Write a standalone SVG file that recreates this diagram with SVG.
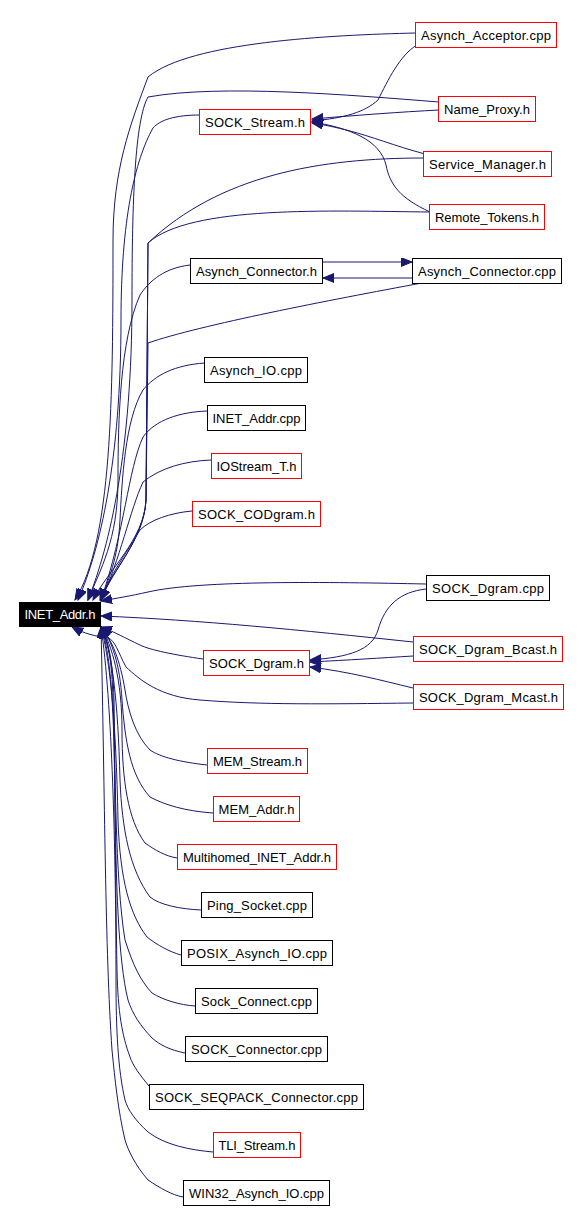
<svg xmlns="http://www.w3.org/2000/svg" width="579" height="1211" viewBox="0 0 579 1211">
<style>
.bk{fill:#fff;stroke:#000;stroke-width:1}
.rd{fill:#fff;stroke:#f00;stroke-width:1}
.root{fill:#000;stroke:#000;stroke-width:1}
text{font-family:"Liberation Sans",Arial,sans-serif;font-size:13px;fill:#000;text-anchor:middle}
.wt{fill:#fff}
.e{fill:none;stroke:#191970;stroke-width:1;marker-end:url(#ah)}
</style>
<defs>
<marker id="ah" markerUnits="userSpaceOnUse" markerWidth="12" markerHeight="10" refX="11" refY="4.5" orient="auto">
<path d="M0,0 L11,4.5 L0,9 z" fill="#191970" stroke="#191970"/>
</marker>
</defs>
<rect width="579" height="1211" fill="#fff"/>
<g id="edges">
<!-- to SOCK_Stream.h -->
<path class="e" d="M417,45 C400,55 388,80 378,100 C365,112 345,118 312,121"/>
<path class="e" d="M439,110 C400,112 360,115 312,119"/>
<path class="e" d="M425,154 C395,146 370,136 350,131 C335,127 325,125 312,123"/>
<path class="e" d="M430,212 C400,198 390,185 386,165 C380,140 350,128 312,122"/>
<!-- Asynch_Connector pair -->
<path class="e" d="M323,262 L412,262"/>
<path class="e" d="M413,278 L323,278"/>
<!-- to SOCK_Dgram.h -->
<path class="e" d="M426,589 C400,592 385,605 378,630 C372,650 350,657 310,660"/>
<path class="e" d="M413,656 C380,658 350,660 310,662"/>
<path class="e" d="M413,688 C380,680 350,672 310,667"/>
<!-- to INET_Addr.h from above -->
<path class="e" d="M416,33 C330,35 190,42 148,77 C130,125 113,170 113,240 C113,400 112,540 75,600"/>
<path class="e" d="M439,102 C350,95 220,84 148,97 C135,120 132,200 132,300 C132,450 110,545 88,600"/>
<path class="e" d="M200,115 C175,115 160,120 153,128 C135,160 121,220 121,320 C121,460 100,550 78,600"/>
<path class="e" d="M424,158 C320,158 220,175 148,243 L146,500 C144,540 112,570 100,600"/>
<path class="e" d="M430,212 C330,211 190,205 148,243 L146,500 C144,540 108,570 93,600"/>
<path class="e" d="M190,265 C165,268 150,280 140,295 C120,340 118,420 118,480 C118,540 100,570 88,600"/>
<path class="e" d="M422,283 C330,300 200,325 148,343 L146,500 C144,540 112,570 101,600"/>
<path class="e" d="M205,363 C175,365 155,375 143,390 C125,420 122,480 120,520 C118,560 108,580 101,600"/>
<path class="e" d="M207,411 C180,412 155,420 143,437 C128,470 125,530 101,600"/>
<path class="e" d="M211,460 C185,461 160,468 143,482 C130,510 120,560 101,600"/>
<path class="e" d="M192,511 C170,513 150,520 140,530 C125,555 110,575 101,600"/>
<path class="e" d="M426,584 C330,582 200,580 148,592 C130,596 118,598 101,601"/>
<path class="e" d="M413,642 C300,630 200,620 101,616"/>
<!-- to INET_Addr.h from below -->
<path class="e" d="M203,659 C175,655 150,650 140,645 C125,638 115,632 101,627"/>
<path class="e" d="M413,703 C330,704 260,705 200,700 C160,697 140,680 126,667 C118,652 115,640 108,638 C95,636 85,634 72,627"/>
<path class="e" d="M207,765 C180,762 160,757 150,750 C135,735 128,710 125,690 C120,660 112,640 101,627"/>
<path class="e" d="M213,813 C185,811 165,805 150,797 C130,775 125,740 122,700 C120,665 112,640 101,627"/>
<path class="e" d="M177,858 C165,856 155,850 145,843 C128,820 122,780 122,730 C122,680 112,645 101,627"/>
<path class="e" d="M201,910 C180,909 160,905 150,897 C130,870 122,830 120,780 C118,700 112,650 101,627"/>
<path class="e" d="M181,955 C170,952 157,945 147,937 C130,915 120,880 118,820 C116,720 110,660 101,627"/>
<path class="e" d="M195,1006 C180,1005 163,1000 152,993 C140,980 133,965 125,940 C115,880 115,760 114,700 C113,660 108,640 101,627"/>
<path class="e" d="M185,1053 C170,1050 160,1045 152,1038 C140,1025 133,1015 128,1000 C118,960 116,880 115,800 C114,700 110,650 101,627"/>
<path class="e" d="M149,1086 C140,1075 133,1066 130,1057 C122,1035 118,1013 117,970 C115,860 115,750 113,700 C112,660 108,640 101,627"/>
<path class="e" d="M213,1152 C190,1150 165,1145 148,1132 C135,1120 128,1110 125,1100 C118,1070 116,1030 116,980 C116,850 112,700 101,627"/>
<path class="e" d="M183,1197 C172,1195 160,1188 148,1180 C135,1165 128,1150 125,1140 C118,1110 115,1080 112,1050 C105,950 105,800 101,627"/>
</g>
<g id="n0"><rect class="root" x="19.5" y="602.5" width="81" height="24"/><text class="wt" x="60" y="619" textLength="71" lengthAdjust="spacing">INET_Addr.h</text></g>
<g id="n1"><rect class="rd" x="415.5" y="22.5" width="141" height="25"/><text x="486" y="40" textLength="130" lengthAdjust="spacing">Asynch_Acceptor.cpp</text></g>
<g id="n2"><rect class="rd" x="438.5" y="96.5" width="97" height="25"/><text x="487" y="114" textLength="86" lengthAdjust="spacing">Name_Proxy.h</text></g>
<g id="n3"><rect class="rd" x="199.5" y="109.5" width="111" height="25"/><text x="255" y="127" textLength="100" lengthAdjust="spacing">SOCK_Stream.h</text></g>
<g id="n4"><rect class="rd" x="423.5" y="151.5" width="128" height="25"/><text x="487.5" y="169" textLength="117" lengthAdjust="spacing">Service_Manager.h</text></g>
<g id="n5"><rect class="rd" x="429.5" y="204.5" width="115" height="25"/><text x="487" y="222" textLength="104" lengthAdjust="spacing">Remote_Tokens.h</text></g>
<g id="n6"><rect class="bk" x="190.5" y="258.5" width="132" height="25"/><text x="256.5" y="276" textLength="121" lengthAdjust="spacing">Asynch_Connector.h</text></g>
<g id="n7"><rect class="bk" x="412.5" y="258.5" width="149" height="25"/><text x="487" y="276" textLength="138" lengthAdjust="spacing">Asynch_Connector.cpp</text></g>
<g id="n8"><rect class="bk" x="204.5" y="357.5" width="103" height="25"/><text x="256" y="375" textLength="92" lengthAdjust="spacing">Asynch_IO.cpp</text></g>
<g id="n9"><rect class="bk" x="207.5" y="405.5" width="98" height="25"/><text x="256.5" y="423" textLength="88" lengthAdjust="spacing">INET_Addr.cpp</text></g>
<g id="n10"><rect class="rd" x="211.5" y="453.5" width="90" height="25"/><text x="256.5" y="471" textLength="80" lengthAdjust="spacing">IOStream_T.h</text></g>
<g id="n11"><rect class="rd" x="192.5" y="501.5" width="128" height="25"/><text x="256.5" y="519" textLength="117" lengthAdjust="spacing">SOCK_CODgram.h</text></g>
<g id="n12"><rect class="bk" x="426.5" y="575.5" width="123" height="25"/><text x="488" y="593" textLength="112" lengthAdjust="spacing">SOCK_Dgram.cpp</text></g>
<g id="n13"><rect class="rd" x="413.5" y="636.5" width="149" height="25"/><text x="488" y="654" textLength="138" lengthAdjust="spacing">SOCK_Dgram_Bcast.h</text></g>
<g id="n14"><rect class="rd" x="203.5" y="650.5" width="106" height="25"/><text x="256.5" y="668" textLength="95" lengthAdjust="spacing">SOCK_Dgram.h</text></g>
<g id="n15"><rect class="rd" x="413.5" y="684.5" width="150" height="25"/><text x="488.5" y="702" textLength="139" lengthAdjust="spacing">SOCK_Dgram_Mcast.h</text></g>
<g id="n16"><rect class="rd" x="207.5" y="748.5" width="100" height="25"/><text x="257.5" y="766" textLength="89" lengthAdjust="spacing">MEM_Stream.h</text></g>
<g id="n17"><rect class="rd" x="213.5" y="796.5" width="86" height="25"/><text x="256.5" y="814" textLength="76" lengthAdjust="spacing">MEM_Addr.h</text></g>
<g id="n18"><rect class="rd" x="177.5" y="844.5" width="159" height="25"/><text x="257" y="862" textLength="148" lengthAdjust="spacing">Multihomed_INET_Addr.h</text></g>
<g id="n19"><rect class="bk" x="201.5" y="892.5" width="111" height="25"/><text x="257" y="910" textLength="100" lengthAdjust="spacing">Ping_Socket.cpp</text></g>
<g id="n20"><rect class="bk" x="181.5" y="940.5" width="151" height="25"/><text x="257" y="958" textLength="140" lengthAdjust="spacing">POSIX_Asynch_IO.cpp</text></g>
<g id="n21"><rect class="bk" x="195.5" y="988.5" width="122" height="25"/><text x="256.5" y="1006" textLength="111" lengthAdjust="spacing">Sock_Connect.cpp</text></g>
<g id="n22"><rect class="bk" x="185.5" y="1036.5" width="142" height="25"/><text x="256.5" y="1054" textLength="131" lengthAdjust="spacing">SOCK_Connector.cpp</text></g>
<g id="n23"><rect class="bk" x="149.5" y="1084.5" width="214" height="25"/><text x="256.5" y="1102" textLength="203" lengthAdjust="spacing">SOCK_SEQPACK_Connector.cpp</text></g>
<g id="n24"><rect class="rd" x="213.5" y="1132.5" width="87" height="25"/><text x="257" y="1150" textLength="77" lengthAdjust="spacing">TLI_Stream.h</text></g>
<g id="n25"><rect class="bk" x="183.5" y="1180.5" width="146" height="25"/><text x="256.5" y="1198" textLength="135" lengthAdjust="spacing">WIN32_Asynch_IO.cpp</text></g>
</svg>
